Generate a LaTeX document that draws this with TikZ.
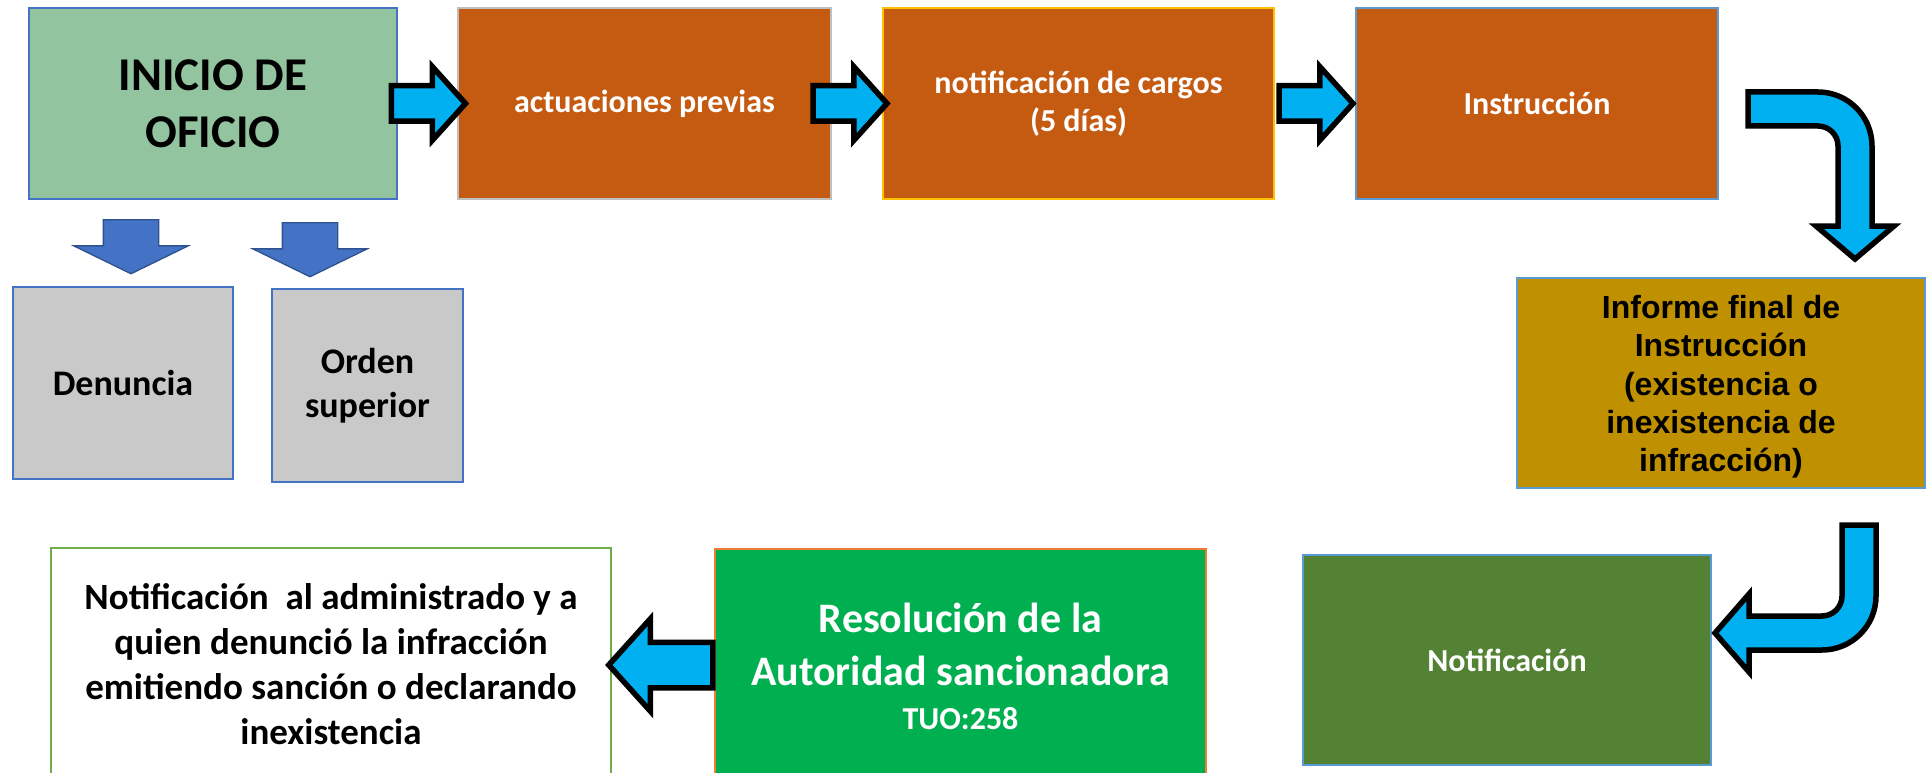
\documentclass[tikz,border=0pt]{standalone}
\usepackage{fontspec}
\setmainfont{Carlito}
\newfontfamily\arialfont{Liberation Sans}
\usetikzlibrary{calc,shapes.arrows}
\pgfdeclarelayer{background}
\pgfsetlayers{background,main}
\definecolor{verdeini}{RGB}{147,196,160}
\definecolor{naranja}{HTML}{C55A11}
\definecolor{dorado}{HTML}{BF9000}
\definecolor{verdeosc}{HTML}{548235}
\definecolor{verdevivo}{HTML}{00B050}
\definecolor{celeste}{HTML}{00B0F0}
\definecolor{azul}{HTML}{4472C4}
\definecolor{azuloscuro}{HTML}{2F528F}
\definecolor{azulclaro}{HTML}{5B9BD5}
\definecolor{gris}{HTML}{C9C9C9}
\definecolor{bordegris}{HTML}{BFBFBF}
\definecolor{amarillo}{HTML}{FFC000}
\definecolor{naranjaborde}{HTML}{ED7D31}
\definecolor{verdeborde}{HTML}{70AD47}

\begin{document}
\begin{tikzpicture}[x=1pt,y=-1pt]
			\tikzset{caja/.style={rectangle, draw, line width=1.3pt, inner sep=0pt, align=center, text=white, font=\bfseries\fontsize{32}{38}\selectfont}}
			\tikzset{flecha/.style={single arrow, draw=black, fill=celeste, line width=5.5pt, inner xsep=0pt, inner ysep=15pt, single arrow tip angle=96, single arrow head extend=19, minimum height=74}}
			\tikzset{flechagrande/.style={flecha, inner ysep=20pt, single arrow head extend=23.5, minimum height=104, rotate=180}}
			\tikzset{bajada/.style={single arrow, draw=azuloscuro, fill=azul, line width=1.3pt, inner xsep=0pt, inner ysep=27pt, rotate=-90, single arrow tip angle=128, single arrow head extend=29.5, minimum height=54}}
			\tikzset{curva/.style={draw=black, fill=celeste, line width=5.5pt}}
			\useasboundingbox[fill=white] (0,0) rectangle (1929,773);
			\node[caja, fill=verdeini, draw=azul, text=black, minimum width=368, minimum height=191, font=\bfseries\fontsize{47}{57}\selectfont] at (213,103.5) (INI){INICIO DE\\OFICIO};
			\node[caja, fill=naranja, draw=bordegris, minimum width=373, minimum height=191] at (644.5,103.5) (ACT){actuaciones previas};
			\node[caja, fill=naranja, draw=amarillo, minimum width=391, minimum height=191] at (1078.5,103.5) (NOT){notificación de cargos\\(5 días)};
			\node[caja, fill=naranja, draw=azulclaro, minimum width=362, minimum height=191] at (1537,103.5) (INS){Instrucción};
			\node[caja, fill=dorado, draw=azulclaro, text=black, minimum width=408, minimum height=210, font=\arialfont\bfseries\fontsize{32}{38.3}\selectfont] at (1721,383) (INF){\rule{0pt}{31pt}Informe final de\\Instrucción\\(existencia o\\inexistencia de\\infracción)};
			\node[caja, fill=verdeosc, draw=azulclaro, minimum width=408, minimum height=210] at (1507,660) (NTF){Notificación};
			\node[caja, fill=verdevivo, draw=naranjaborde, minimum width=491, minimum height=234, font=\bfseries\fontsize{42}{53}\selectfont] at (960.5,666) (RES){Resolución de la\\Autoridad sancionadora\\[-9pt]\fontsize{32}{38}\selectfont TUO:258};
			\node[caja, fill=white, draw=verdeborde, text=black, minimum width=560, minimum height=232, font=\bfseries\fontsize{37}{45}\selectfont] at (331,664) (FIN){Notificación\ \ al administrado y a\\quien denunció la infracción\\emitiendo sanción o declarando\\inexistencia};
			\node[caja, fill=gris, draw=azul, text=black, minimum width=220, minimum height=192, font=\bfseries\fontsize{36}{44}\selectfont] at (123,383) (DEN){Denuncia};
			\node[caja, fill=gris, draw=azul, text=black, minimum width=191, minimum height=193, font=\bfseries\fontsize{36}{44}\selectfont] at (367.5,385.5) (ORD){Orden\\superior};
			\node[bajada] at (131,240) (b1){};
			\node[bajada] at (310,243) (b2){};
			\node[flecha] at ($(INI.east)!.5!(ACT.west)+(-7,0)$) (f1){};
			\node[flecha] at ($(ACT.east)!.5!(NOT.west)+(-15,0)$) (f2){};
			\node[flecha] at ($(NOT.east)!.5!(INS.west)+(-7,0)$) (f3){};
			\draw[curva] (1748,92) -- (1818,92) arc[start angle=-90, end angle=0, radius=54] -- (1872,226) -- (1894,226) -- (1855,259) -- (1816,226) -- (1838,226) -- (1838,146) arc[start angle=0, end angle=-90, radius=20] -- (1748,126) -- cycle;
			\draw[curva] (1842,525) -- (1876,525) -- (1876,596) arc[start angle=0, end angle=90, radius=54] -- (1749,650) -- (1749,672) -- (1715,633) -- (1749,594) -- (1749,616) -- (1822,616) arc[start angle=90, end angle=0, radius=20] -- cycle;
			\begin{pgfonlayer}{background}
				\node[flechagrande] at ($(RES.east)!.5!(NTF.west)+(8,16)$) (f4){};
			\end{pgfonlayer}
			\node[flechagrande] at ($(FIN.east)!.5!(RES.west)+(8,0)$) (f5){};
	\end{tikzpicture}
\end{document}
